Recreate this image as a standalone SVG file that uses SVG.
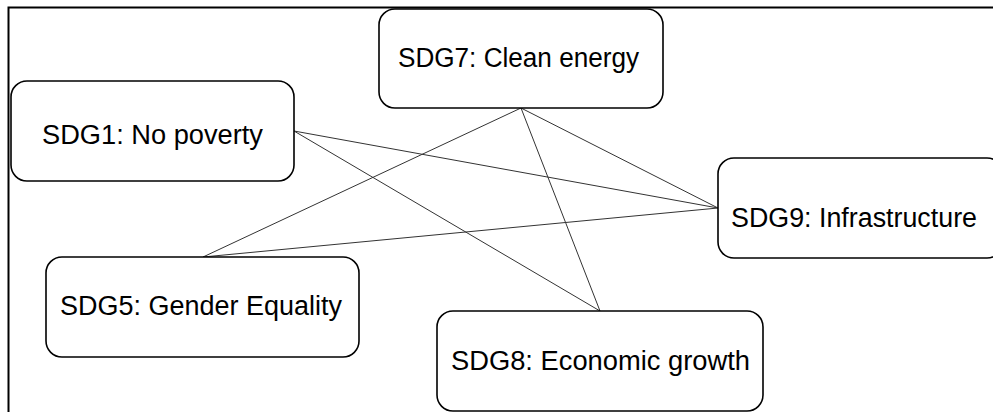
<svg xmlns="http://www.w3.org/2000/svg" width="993" height="412" viewBox="0 0 993 412">
<style>
.box{fill:#fff;stroke:#000;stroke-width:1.6}
.lbl{font-family:"Liberation Sans",Arial,sans-serif;font-size:27px;fill:#000;text-anchor:middle}
.edge{stroke:#333;stroke-width:1;fill:none}
</style>
<rect width="993" height="412" fill="#fff"/>
<path d="M8.5 420 V7.5 H1000" fill="none" stroke="#000" stroke-width="2"/>
<g id="connectors">
<line class="edge" x1="294" y1="131" x2="718" y2="208"/>
<line class="edge" x1="294" y1="131" x2="600" y2="311"/>
<line class="edge" x1="521" y1="108" x2="203" y2="257"/>
<line class="edge" x1="521" y1="108" x2="718" y2="208"/>
<line class="edge" x1="521" y1="108" x2="600" y2="311"/>
<line class="edge" x1="203" y1="257" x2="718" y2="208"/>
</g>
<g id="sdg1"><rect class="box" x="11" y="81" width="283" height="100" rx="16"/><text class="lbl" x="152.5" y="144" textLength="221" lengthAdjust="spacingAndGlyphs">SDG1: No poverty</text></g>
<g id="sdg7"><rect class="box" x="379" y="9" width="284" height="99" rx="16"/><text class="lbl" x="518.5" y="67" textLength="241" lengthAdjust="spacingAndGlyphs">SDG7: Clean energy</text></g>
<g id="sdg9"><rect class="box" x="718" y="158" width="285" height="100" rx="16"/><text class="lbl" x="854" y="227" textLength="246" lengthAdjust="spacingAndGlyphs">SDG9: Infrastructure</text></g>
<g id="sdg5"><rect class="box" x="46" y="257" width="313" height="100" rx="16"/><text class="lbl" x="201" y="315" textLength="282" lengthAdjust="spacingAndGlyphs">SDG5: Gender Equality</text></g>
<g id="sdg8"><rect class="box" x="437" y="311" width="326" height="100" rx="16"/><text class="lbl" x="600.5" y="370" textLength="299" lengthAdjust="spacingAndGlyphs">SDG8: Economic growth</text></g>
</svg>
